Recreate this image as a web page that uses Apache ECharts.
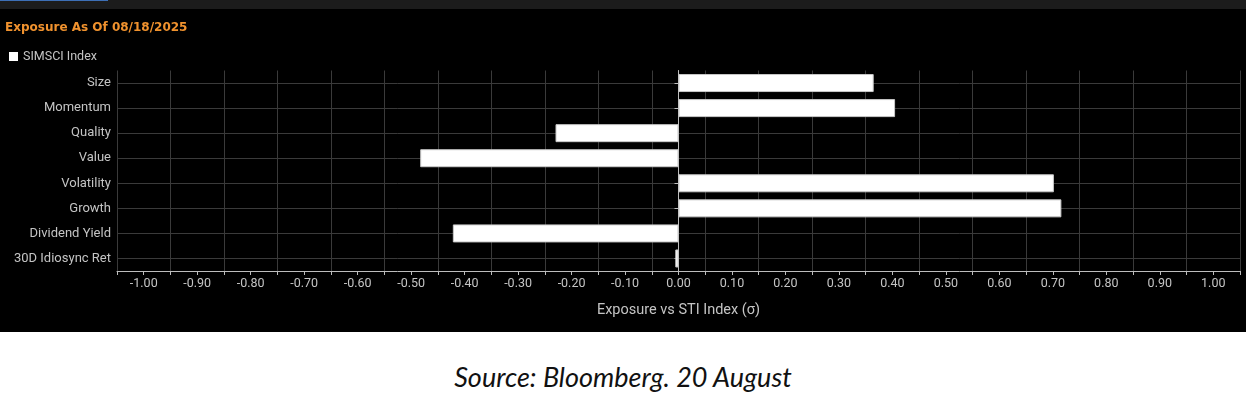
<!DOCTYPE html>
<html>
<head>
<meta charset="utf-8">
<script src="https://cdn.jsdelivr.net/npm/echarts@6/dist/echarts.min.js"></script>
<style>
  html, body { margin: 0; padding: 0; background: #fff; }
  #strip { width: 1246px; height: 9px; background: #1c1c1c; position: relative; }
  #strip .tab { position: absolute; left: 0; top: 0; width: 108px; height: 1px; background: #3d6fb5; }
  #chart { width: 1246px; height: 323px; background: #000; }
  #source { width: 1246px; height: 67px; overflow: hidden; text-align: center; font-family: Lato, "Open Sans", sans-serif;
            font-style: italic; font-size: 27px; color: #111; line-height: 90px; }
</style>
</head>
<body>
<div id="strip"><div class="tab"></div></div>
<div id="chart"></div>
<div id="source">Source: Bloomberg. 20 August</div>
<script>
// 因子名称，从上到下
var factors = ['Size', 'Momentum', 'Quality', 'Value', 'Volatility', 'Growth', 'Dividend Yield', '30D Idiosync Ret'];
// SIMSCI Index 相对 STI 的暴露
var exposure = [0.365, 0.405, -0.230, -0.483, 0.702, 0.716, -0.422, -0.006];
var seriesName = 'SIMSCI Index';
var titleText = 'Exposure As Of 08/18/2025';
var axisName = 'Exposure vs STI Index (\u03c3)';

var labelColor = '#c4c4c4';
var gridColor = '#3a3a3a';

var echar = echarts.init(document.getElementById('chart'));
var option = {
    backgroundColor: '#000',
    animation: false,
    title: {
        text: titleText,
        left: 0,
        top: 8,
        textStyle: { color: '#f0922e', fontSize: 12, fontWeight: 'bold', fontFamily: 'DejaVu Sans' }
    },
    legend: {
        data: [seriesName],
        left: 4,
        top: 36,
        icon: 'rect',
        itemWidth: 9,
        itemHeight: 9,
        itemGap: 5,
        itemStyle: { color: '#ffffff', borderWidth: 0 },
        textStyle: { color: labelColor, fontSize: 12.5, fontFamily: 'Roboto' }
    },
    grid: { left: 117, right: 6, top: 61.5, bottom: 61, containLabel: false },
    xAxis: [
        {
            // 标签和竖向网格线
            type: 'value',
            min: -1.05,
            max: 1.05,
            interval: 0.05,
            axisLine: { show: true, lineStyle: { color: '#bdbdbd', width: 1 } },
            axisTick: { show: false },
            splitLine: { show: true, lineStyle: { color: [gridColor, 'transparent'], width: 1 } },
            axisLabel: {
                color: labelColor, fontSize: 12.5, fontFamily: 'Roboto', margin: 6,
                showMinLabel: false, showMaxLabel: false,
                formatter: function (v) {
                    var k = Math.round(v * 100);
                    if (k % 10 !== 0) return '';
                    return (k / 100).toFixed(2);
                }
            },
            name: axisName,
            nameLocation: 'middle',
            nameGap: 32,
            nameTextStyle: { color: labelColor, fontSize: 14.5, fontFamily: 'Roboto' }
        },
        {
            // 刻度线，落在 0.05 处
            type: 'value',
            position: 'bottom',
            min: -1.05,
            max: 1.05,
            interval: 0.05,
            axisLine: { show: false },
            axisTick: { show: true, length: 4, lineStyle: { color: ['#bdbdbd', 'transparent'] } },
            splitLine: { show: false },
            axisLabel: { show: false }
        }
    ],
    yAxis: {
        type: 'category',
        inverse: true,
        data: factors,
        axisLine: { show: true, lineStyle: { color: '#bdbdbd' } },
        axisTick: { show: true, length: 4, alignWithLabel: true, lineStyle: { color: '#bdbdbd' } },
        splitLine: { show: true, alignWithLabel: true, lineStyle: { color: gridColor } },
        axisLabel: { color: labelColor, fontSize: 13, fontFamily: 'Roboto', margin: 6 }
    },
    series: [
        {
            name: seriesName,
            type: 'bar',
            xAxisIndex: 0,
            data: exposure,
            barWidth: 18,
            itemStyle: { color: '#ffffff', borderColor: '#c8c8c8', borderWidth: 1 }
        }
    ]
};
echar.setOption(option);
</script>
</body>
</html>
